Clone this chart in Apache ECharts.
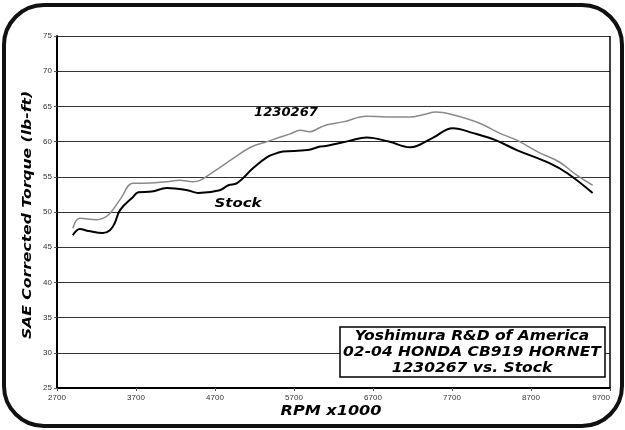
<!DOCTYPE html>
<html><head><meta charset="utf-8">
<script src="https://cdn.jsdelivr.net/npm/echarts@6/dist/echarts.min.js"></script>
<style>html,body{margin:0;padding:0;background:#fff}#c{width:625px;height:430px}</style>
</head><body><div id="c"></div>
<script>
const stockRpm = [2900,2990,3100,3280,3370,3430,3500,3660,3730,3900,4090,4350,4490,4760,4870,4980,5180,5360,5490,5560,5870,6030,6120,6400,6620,6900,7170,7450,7710,7970,8250,8520,8940,9160,9480];
const stockVal = [46.7,47.6,47.3,47.0,47.4,48.4,50.3,52.1,52.8,52.9,53.4,53.1,52.7,53.1,53.8,54.1,56.2,57.8,58.4,58.6,58.8,59.3,59.4,60.1,60.6,60.0,59.2,60.5,61.9,61.2,60.2,58.8,56.9,55.5,52.7];
const pipeRpm = [2900,2990,3200,3280,3370,3500,3660,3750,4090,4250,4420,4510,4680,4930,5150,5360,5490,5650,5780,5900,6030,6120,6320,6620,6870,7170,7330,7500,7710,8050,8300,8520,8810,9060,9270,9480];
const pipeVal = [47.7,49.1,48.9,49.1,49.8,51.8,54.1,54.1,54.3,54.5,54.3,54.5,55.7,57.6,59.2,60.0,60.5,61.1,61.6,61.4,62.0,62.4,62.8,63.6,63.5,63.5,63.8,64.2,63.8,62.6,61.2,60.2,58.4,57.1,55.3,53.8];
const boxLines = ['Yoshimura R&D of America','02-04 HONDA CB919 HORNET','1230267 vs. Stock'];
const yTitle = 'SAE Corrected Torque (lb-ft)';
const xTitle = 'RPM x1000';

const chart = echarts.init(document.getElementById('c'));
const bi = {fontFamily:'DejaVu Sans', fontWeight:'bold', fontStyle:'italic', fill:'#000'};
chart.setOption({
  animation:false,
  grid:{left:57, right:15, top:36, bottom:42},
  xAxis:{type:'value', min:2700, max:9700, interval:1000,
    axisLine:{lineStyle:{color:'#000', width:2}},
    axisTick:{show:true, length:3, lineStyle:{color:'#555'}},
    axisLabel:{fontSize:8, color:'#333', fontFamily:'Liberation Sans', margin:6, formatter:v=>String(v), alignMaxLabel:'right'},
    splitLine:{show:false}},
  yAxis:{type:'value', min:25, max:75, interval:5,
    axisLine:{show:true, lineStyle:{color:'#000', width:2}},
    axisTick:{show:true, length:3, lineStyle:{color:'#555'}},
    axisLabel:{fontSize:8, color:'#333', fontFamily:'Liberation Sans', margin:5},
    splitLine:{show:true, lineStyle:{color:'#333', width:1.2}}},
  series:[
    {name:'1230267', type:'line', smooth:0.4, symbol:'none', z:3,
     data:pipeRpm.map((r,i)=>[r,pipeVal[i]]),
     lineStyle:{color:'#8a8a8a', width:1.5}},
    {name:'Stock', type:'line', smooth:0.4, symbol:'none', z:4,
     data:stockRpm.map((r,i)=>[r,stockVal[i]]),
     lineStyle:{color:'#000', width:2}}
  ],
  graphic:[
    {type:'rect', shape:{x:4, y:5, width:618, height:421, r:40}, style:{fill:null, stroke:'#111', lineWidth:4}, z:0},
    {type:'line', shape:{x1:610, y1:36, x2:610, y2:388}, style:{stroke:'#000', lineWidth:1.5}, z:5},
    {type:'text', x:286, y:113, scaleX:1.05, style:Object.assign({text:'1230267', fontSize:12.5, align:'center', verticalAlign:'middle'}, bi), z:10},
    {type:'text', x:238, y:204, scaleX:1.2, style:Object.assign({text:'Stock', fontSize:12.5, align:'center', verticalAlign:'middle'}, bi), z:10},
    {type:'text', x:331, y:411, scaleX:1.15, style:Object.assign({text:xTitle, fontSize:14, align:'center', verticalAlign:'middle'}, bi), z:10},
    {type:'text', x:28, y:215, rotation:Math.PI/2, scaleX:1.2, style:Object.assign({text:yTitle, fontSize:13, align:'center', verticalAlign:'middle'}, bi), z:10},
    {type:'rect', shape:{x:340, y:327, width:265, height:50}, style:{fill:'#fff', stroke:'#000', lineWidth:1.5}, z:10},
    {type:'text', x:472, y:352, scaleX:1.15, style:Object.assign({text:boxLines.join('\n'), fontSize:13.5, lineHeight:16, align:'center', verticalAlign:'middle'}, bi), z:11}
  ]
});
</script></body></html>
